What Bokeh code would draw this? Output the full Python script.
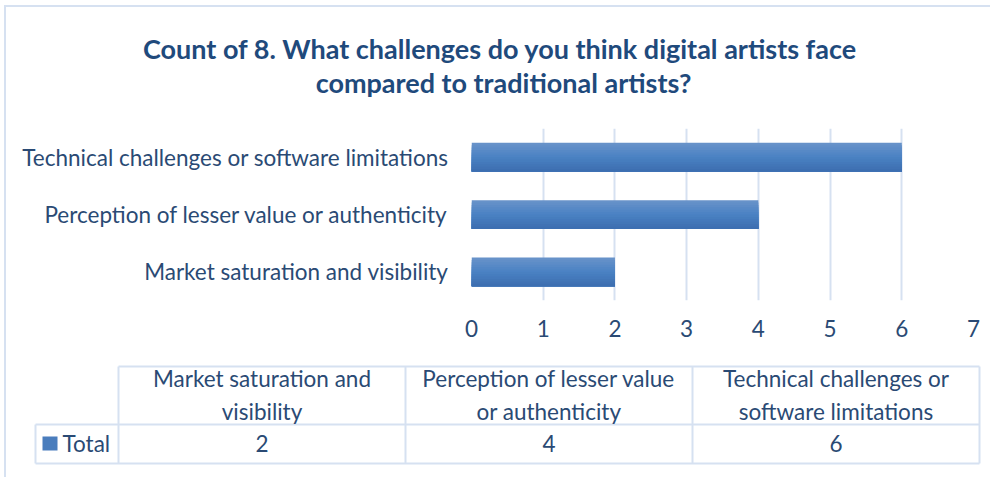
from bokeh.plotting import figure
from bokeh.layouts import column
from bokeh.models import Range1d, FactorRange, ColumnDataSource
from bokeh.transform import dodge
from bokeh.embed import file_html
from bokeh.resources import INLINE
from bokeh.core.properties import value

# ---- data ----
title_lines = ["Count of  8. What challenges do you think digital artists face",
               "compared to traditional artists?"]
categories = ["Market saturation and visibility",
              "Perception of lesser value or authenticity",
              "Technical challenges or software limitations"]
counts = [2, 4, 6]
x_ticks = [0, 1, 2, 3, 4, 5, 6, 7]
table_headers = ["Market saturation and\nvisibility",
                 "Perception of lesser value\nor authenticity",
                 "Technical challenges or\nsoftware limitations"]
series_name = "Total"

# ---- styles ----
FONT = "Lato"
TITLE_C = "#1F4A7C"
TXT = "#2A4A74"
GRID = "#D6E1F1"
BAR = "#4A7DBD"
W = 984
FS = "22.5px"


def bare(fig):
    fig.xaxis.visible = False
    fig.yaxis.visible = False
    fig.grid.visible = False
    fig.outline_line_color = None
    return fig


def mix(c1, c2, t):
    a = [int(c1[i:i + 2], 16) for i in (1, 3, 5)]
    b = [int(c2[i:i + 2], 16) for i in (1, 3, 5)]
    return "#%02x%02x%02x" % tuple(round(a[i] + (b[i] - a[i]) * t) for i in range(3))


# ---- title ----
pt = bare(figure(width=W, height=111, x_range=Range1d(0, W), y_range=Range1d(111, 0),
                 toolbar_location=None, output_backend="svg", min_border=0, frame_align=False))
pt.text(x=[497] * len(title_lines), y=[41, 75], text=title_lines,
        text_font=value(FONT), text_font_style="bold", text_font_size="27px",
        text_color=TITLE_C, text_align="center", text_baseline="middle")

# ---- bar chart ----
p = figure(width=W, height=234, y_range=FactorRange(factors=categories), x_range=Range1d(0, 7),
           toolbar_location=None, output_backend="svg", frame_align=False,
           min_border_left=465, min_border_right=17, min_border_top=10, min_border_bottom=52)
p.outline_line_color = None
src = ColumnDataSource(dict(cat=categories, cnt=counts))
BAR_H = 0.5
N = 12
top_c, mid_c, bot_c = "#6A93CA", "#4A82C3", "#3C6DAF"
for k in range(N):
    t = (k + 0.5) / N
    col = mix(top_c, mid_c, t * 2) if t < 0.5 else mix(mid_c, bot_c, (t - 0.5) * 2)
    h = BAR_H - k * BAR_H / N
    off = BAR_H / 2 - k * BAR_H / N - h / 2
    p.hbar(y=dodge("cat", off, range=p.y_range), left=0, right="cnt", height=h,
           source=src, fill_color=col, line_color=None)
p.xaxis.ticker = x_ticks
for ax in (p.xaxis, p.yaxis):
    ax.major_tick_out = 0
    ax.major_tick_in = 0
    ax.minor_tick_out = 0
    ax.minor_tick_in = 0
    ax.axis_line_color = None
    ax.major_label_text_font = FONT
    ax.major_label_text_font_size = FS
    ax.major_label_text_color = TXT
p.xaxis.major_label_standoff = 19
p.yaxis.major_label_standoff = 23
p.ygrid.visible = False
p.xgrid.grid_line_color = GRID
p.xgrid.grid_line_width = 2

# ---- data table ----
PX = 287.0
x0 = -112 / PX
pt2 = bare(figure(width=W, height=125, x_range=Range1d(x0, x0 + W / PX), y_range=Range1d(125, 0),
                  toolbar_location=None, output_backend="svg", min_border=0, frame_align=False))
n = len(table_headers)
legend_left = -83 / PX
top, mid, bot = 14, 72, 111
pt2.segment(x0=[0, legend_left, legend_left], y0=[top, mid, bot], x1=[n, n, n], y1=[top, mid, bot],
            line_color=GRID, line_width=2)
pt2.segment(x0=list(range(n + 1)), y0=[top] * (n + 1), x1=list(range(n + 1)), y1=[bot] * (n + 1),
            line_color=GRID, line_width=2)
pt2.segment(x0=[legend_left], y0=[mid], x1=[legend_left], y1=[bot], line_color=GRID, line_width=2)
centers = [i + 0.5 for i in range(n)]
pt2.text(x=centers, y=[42.5] * n, text=table_headers, text_font=value(FONT), text_font_size=FS,
         text_color=TXT, text_align="center", text_baseline="middle", text_line_height=1.2)
pt2.text(x=centers, y=[91] * n, text=[str(c) for c in counts], text_font=value(FONT),
         text_font_size=FS, text_color=TXT, text_align="center", text_baseline="middle")
pt2.quad(left=[-76 / PX], right=[-61 / PX], top=[84], bottom=[98], fill_color=BAR, line_color=None)
pt2.text(x=[-56 / PX], y=[91], text=[series_name], text_font=value(FONT), text_font_size=FS,
         text_color=TXT, text_align="left", text_baseline="middle")

layout = column(pt, p, pt2, spacing=0,
                styles={"border-left": "2px solid " + GRID, "border-top": "2px solid " + GRID,
                        "margin-left": "4px", "margin-top": "5px"})
open("out.html", "w").write(file_html(layout, INLINE))
